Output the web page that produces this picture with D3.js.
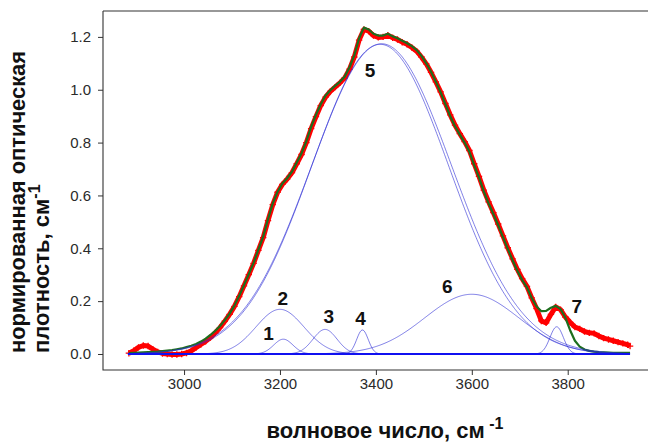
<!DOCTYPE html>
<html>
<head>
<meta charset="utf-8">
<script src="https://cdn.jsdelivr.net/npm/d3@7"></script>
<style>
  body { margin: 0; background: #fff; }
  text { font-family: "Liberation Sans", Arial, sans-serif; }
</style>
</head>
<body>
<svg id="chart" width="648" height="443"></svg>
<script>
// Spectrum: wavenumber (cm^-1), measured absorbance and fitted envelope
const wavenumber = [2885, 2895, 2905, 2915, 2925, 2935, 2945, 2955, 2965, 2975, 2985, 2995,
  3005, 3015, 3025, 3035, 3045, 3055, 3065, 3075, 3085, 3095, 3105, 3115, 3125, 3135, 3145,
  3155, 3165, 3175, 3185, 3195, 3205, 3215, 3225, 3235, 3245, 3255, 3265, 3275, 3285, 3295,
  3305, 3315, 3325, 3335, 3345, 3355, 3365, 3375, 3385, 3395, 3405, 3415, 3425, 3435, 3445,
  3455, 3465, 3475, 3485, 3495, 3505, 3515, 3525, 3535, 3545, 3555, 3565, 3575, 3585, 3595,
  3605, 3615, 3625, 3635, 3645, 3655, 3665, 3675, 3685, 3695, 3705, 3715, 3725, 3735, 3745,
  3755, 3765, 3775, 3785, 3795, 3805, 3815, 3825, 3835, 3845, 3855, 3865, 3875, 3885, 3895,
  3905, 3915, 3925, 3930];

const fitted = [0.003, 0.004, 0.005, 0.006, 0.007, 0.008, 0.009, 0.011, 0.013, 0.015, 0.018, 0.021,
  0.026, 0.031, 0.038, 0.047, 0.058, 0.072, 0.088, 0.106, 0.128, 0.153, 0.183, 0.220, 0.260, 0.302, 0.345,
  0.395, 0.444, 0.510, 0.570, 0.614, 0.645, 0.665, 0.690, 0.725, 0.760, 0.805, 0.860, 0.905, 0.945, 0.978,
  0.998, 1.015, 1.030, 1.050, 1.085, 1.130, 1.195, 1.235, 1.228, 1.212, 1.205, 1.205, 1.212, 1.202, 1.195,
  1.185, 1.176, 1.165, 1.150, 1.128, 1.100, 1.068, 1.030, 0.990, 0.945, 0.900, 0.862, 0.830, 0.800, 0.765,
  0.715, 0.668, 0.615, 0.570, 0.530, 0.488, 0.442, 0.398, 0.355, 0.315, 0.280, 0.252, 0.212, 0.180, 0.162,
  0.163, 0.175, 0.182, 0.170, 0.138, 0.090, 0.050, 0.028, 0.017, 0.012, 0.009, 0.007, 0.006, 0.005, 0.004,
  0.004, 0.004, 0.004, 0.004];

const measured = [0.003, 0.012, 0.025, 0.032, 0.030, 0.018, 0.008, 0.002, 0.000, -0.002, -0.002, 0.000,
  0.004, 0.012, 0.024, 0.036, 0.048, 0.062, 0.080, 0.100, 0.124, 0.150, 0.180, 0.217, 0.258, 0.300, 0.343,
  0.392, 0.440, 0.505, 0.565, 0.612, 0.642, 0.662, 0.686, 0.720, 0.755, 0.800, 0.853, 0.898, 0.940, 0.972,
  0.994, 1.010, 1.026, 1.045, 1.078, 1.124, 1.188, 1.228, 1.222, 1.205, 1.198, 1.200, 1.206, 1.197, 1.190,
  1.180, 1.172, 1.160, 1.146, 1.124, 1.098, 1.066, 1.030, 0.992, 0.948, 0.905, 0.866, 0.834, 0.804, 0.770,
  0.720, 0.672, 0.620, 0.576, 0.535, 0.492, 0.447, 0.402, 0.360, 0.320, 0.285, 0.256, 0.212, 0.172, 0.125,
  0.118, 0.150, 0.178, 0.168, 0.140, 0.120, 0.102, 0.095, 0.085, 0.080, 0.078, 0.068, 0.060, 0.055, 0.050,
  0.045, 0.040, 0.035, 0.030];

// Gaussian bands of the decomposition: centre, peak height, sigma
const bandCenter = [3207, 3200, 3294, 3372, 3412, 3600, 3777, 3409];
const bandHeight = [0.056, 0.169, 0.093, 0.091, 1.174, 0.226, 0.103, 1.172];
const bandSigma  = [20, 50, 25, 12, 146, 98, 14, 143];

// Band numbers and where they are written (data units)
const bandNumber = ["1", "2", "3", "4", "5", "6", "7"];
const numberWn   = [3176, 3206, 3302, 3368, 3388, 3549, 3819];
const numberVal  = [0.053, 0.1855, 0.117, 0.11, 1.050, 0.231, 0.155];

const xTickValues = [3000, 3200, 3400, 3600, 3800];
const yTickValues = [0.0, 0.2, 0.4, 0.6, 0.8, 1.0, 1.2];

const svg = d3.select("#chart");
const frame = { left: 103, right: 655, top: 11, bottom: 370 };

const x = d3.scaleLinear().domain([2831, 3982]).range([frame.left, frame.right]);
const y = d3.scaleLinear().domain([-0.0606, 1.298]).range([frame.bottom, frame.top]);

const spectrum = wavenumber.map((w, i) => ({ w, fit: fitted[i], obs: measured[i] }));

// measured points: thick red trace with "+" markers
const line = d3.line().x(d => x(d[0])).y(d => y(d[1]));
svg.append("path")
  .attr("d", line(spectrum.map(d => [d.w, d.obs])))
  .attr("fill", "none").attr("stroke", "#ff0000")
  .attr("stroke-width", 5).attr("stroke-linejoin", "round");
svg.append("g").selectAll("path").data(spectrum).join("path")
  .attr("d", d => {
    const cx = x(d.w), cy = y(d.obs), r = 3.2;
    return `M${cx - r},${cy}H${cx + r}M${cx},${cy - r}V${cy + r}`;
  })
  .attr("stroke", "#ff0000").attr("stroke-width", 1.3);

// fitted envelope
svg.append("path")
  .attr("d", line(spectrum.map(d => [d.w, d.fit])))
  .attr("fill", "none").attr("stroke", "#1d6e1d")
  .attr("stroke-width", 2.2).attr("stroke-linejoin", "round");

// Gaussian components
const gridW = d3.range(2883, 3931, 2);
bandCenter.forEach((c, k) => {
  const pts = gridW.map(w => [w, bandHeight[k] * Math.exp(-((w - c) ** 2) / (2 * bandSigma[k] ** 2))]);
  svg.append("path")
    .attr("d", line(pts))
    .attr("fill", "none").attr("stroke", "#2b2bd6")
    .attr("stroke-opacity", 0.6).attr("stroke-width", 1);
});
// zero line under the components
svg.append("path")
  .attr("d", line([[2883, 0], [3930, 0]]))
  .attr("stroke", "#1010f0").attr("stroke-width", 2);

// band numbers
svg.append("g").selectAll("text").data(bandNumber).join("text")
  .attr("x", (d, i) => x(numberWn[i]))
  .attr("y", (d, i) => y(numberVal[i]))
  .attr("text-anchor", "middle")
  .attr("font-size", 19).attr("font-weight", "bold").attr("fill", "#111")
  .text(d => d);

// axes frame (right spine falls outside the canvas)
const spine = svg.append("g").attr("stroke", "#333").attr("stroke-width", 1.1).attr("fill", "none");
spine.append("path").attr("d", `M${frame.left},${frame.top}V${frame.bottom}H${frame.right}`);
spine.append("path").attr("d", `M${frame.left},${frame.top}H${frame.right}`);

const xAxis = d3.axisBottom(x).tickValues(xTickValues).tickSize(5).tickPadding(3).tickFormat(d3.format("d"));
const yAxis = d3.axisLeft(y).tickValues(yTickValues).tickSize(5).tickPadding(7).tickFormat(d3.format(".1f"));

const gx = svg.append("g").attr("transform", `translate(0,${frame.bottom})`).call(xAxis);
const gy = svg.append("g").attr("transform", `translate(${frame.left},0)`).call(yAxis);
[gx, gy].forEach(g => {
  g.select(".domain").remove();
  g.selectAll(".tick line").attr("stroke", "#333");
  g.selectAll(".tick text")
    .attr("font-family", "'DejaVu Sans', sans-serif")
    .attr("font-size", 15).attr("fill", "#2a2a2a");
});

// axis titles
const xt = svg.append("text")
  .attr("x", 385).attr("y", 438)
  .attr("text-anchor", "middle")
  .attr("font-size", 22).attr("font-weight", "bold").attr("fill", "#111");
xt.append("tspan").text("волновое число, см");
xt.append("tspan").attr("dy", -9).attr("font-size", 16).text(" -1");

svg.append("text")
  .attr("transform", "translate(25,353) rotate(-90)")
  .attr("font-size", 22).attr("font-weight", "bold").attr("fill", "#111")
  .attr("textLength", 302).attr("lengthAdjust", "spacingAndGlyphs")
  .text("нормированная оптическая");
const yt2 = svg.append("text")
  .attr("transform", "translate(49,353) rotate(-90)")
  .attr("font-size", 22).attr("font-weight", "bold").attr("fill", "#111");
yt2.append("tspan").text("плотность, см");
yt2.append("tspan").attr("dy", -9).attr("font-size", 16).text("-1");
</script>
</body>
</html>
